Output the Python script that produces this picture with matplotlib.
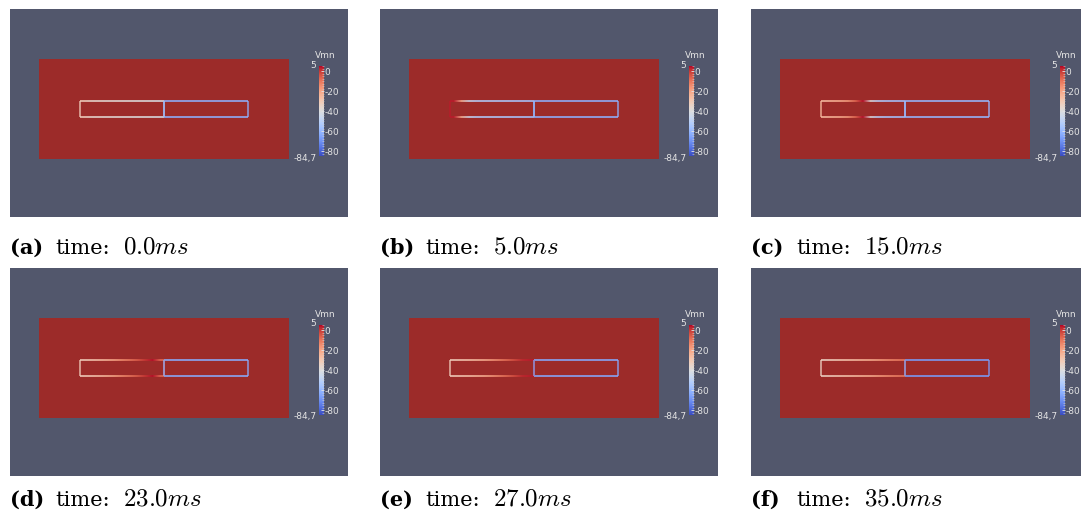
import numpy as np
import matplotlib
matplotlib.use("Agg")
import matplotlib.pyplot as plt
from matplotlib.colors import Normalize
from matplotlib.patches import Rectangle
from matplotlib.colorbar import ColorbarBase
from matplotlib.ticker import MultipleLocator

plt.rcParams['mathtext.fontset'] = 'cm'

# panel captions
labels = ['(a)', '(b)', '(c)', '(d)', '(e)', '(f)']
times = [0.0, 5.0, 15.0, 23.0, 27.0, 35.0]

# transmembrane potential (mV) read along each cable, left -> right
left_v = [
    [-32, -36, -37, -38, -38, -39, -39, -40, -40, -41, -42],   # a
    [3, -22, -46, -52, -53, -53, -54, -54, -55, -55, -56],     # b
    [-26, -24, -22, -18, -8, 4, -40, -52, -55, -56, -57],      # c
    [-32, -30, -27, -24, -20, -15, -11, -6, 0, 4, -8],         # d
    [-32, -30, -28, -25, -22, -18, -13, -8, -3, 2, 3],         # e
    [-34, -32, -30, -28, -26, -24, -22, -19, -16, -13, -11],   # f
]
right_v = [
    [-62, -62, -62, -62, -62, -62, -62, -62, -62, -62, -62],
    [-62, -62, -62, -62, -62, -62, -62, -62, -62, -62, -62],
    [-60, -60, -60, -60, -60, -60, -60, -60, -60, -60, -60],
    [-63, -63, -63, -63, -63, -63, -63, -63, -63, -63, -63],
    [-64, -64, -64, -64, -64, -64, -64, -64, -64, -64, -64],
    [-67, -67, -67, -67, -67, -67, -67, -67, -67, -67, -67],
]
v_min, v_max = -84.7, 5.0
cbar_ticks = [0, -20, -40, -60, -80]

W, H = 1081, 523
BG = '#52576c'
RED = '#9c2b29'
TXT = '#e4e4e4'

fig = plt.figure(figsize=(W / 100, H / 100), dpi=100)
fig.patch.set_facecolor('white')

cmap = plt.get_cmap('coolwarm')
norm = Normalize(vmin=v_min, vmax=v_max)

pw, ph = 338, 208
origins = [(10, 9), (380, 9), (751, 9), (10, 268), (380, 268), (751, 268)]
cap_base = [254, 254, 254, 506, 506, 506]


def draw_cable(ax, x0, x1, y0, y1, vals):
    row = np.array(vals, dtype=float)[np.newaxis, :]
    for y in (y0, y1):
        ax.imshow(row, cmap=cmap, norm=norm, extent=(x0, x1, y + 0.8, y - 0.8),
                  interpolation='bilinear', aspect='auto', alpha=0.8, zorder=3)
    ax.plot([x0, x0], [y0, y1], color=cmap(norm(vals[0])), lw=1.2, alpha=0.8,
            zorder=4, solid_capstyle='butt')
    ax.plot([x1, x1], [y0, y1], color=cmap(norm(vals[-1])), lw=1.2, alpha=0.8,
            zorder=4, solid_capstyle='butt')


for i, (ox, oy) in enumerate(origins):
    ax = fig.add_axes([ox / W, 1 - (oy + ph) / H, pw / W, ph / H])
    ax.set_facecolor(BG)
    ax.set_xlim(0, pw)
    ax.set_ylim(ph, 0)
    ax.set_xticks([])
    ax.set_yticks([])
    for s in ax.spines.values():
        s.set_visible(False)

    ax.add_patch(Rectangle((29, 50), 250, 100, facecolor=RED, edgecolor='none', zorder=1))
    draw_cable(ax, 70, 154, 92, 108, left_v[i])
    draw_cable(ax, 154, 238, 92, 108, right_v[i])

    # scalar bar
    cax = fig.add_axes([(ox + 309) / W, 1 - (oy + 147) / H, 5 / W, 90 / H])
    cb = ColorbarBase(cax, cmap=cmap, norm=norm, orientation='vertical')
    cb.outline.set_visible(False)
    cb.set_ticks(cbar_ticks)
    cb.set_ticklabels([str(t) for t in cbar_ticks])
    cax.yaxis.set_minor_locator(MultipleLocator(2.5))
    cax.tick_params(which='major', length=2.5, width=0.6, colors=TXT, labelsize=6.5,
                    pad=0.5, direction='in')
    cax.tick_params(which='minor', length=1.5, width=0.4, colors='#d0d0d0', direction='in')
    ax.text(315, 51, 'Vmn', color=TXT, fontsize=6.5, ha='center', va='bottom',
            family='DejaVu Sans', zorder=5)
    ax.text(306, 56, '5', color=TXT, fontsize=6.5, ha='right', va='center',
            family='DejaVu Sans', zorder=5)
    ax.text(307, 149, '-84,7', color=TXT, fontsize=6.5, ha='right', va='center',
            family='DejaVu Sans', zorder=5)

    # caption
    yb = 1 - cap_base[i] / H
    fig.text(ox / W, yb, labels[i], fontsize=15, fontweight='bold',
             family='DejaVu Serif', va='baseline', ha='left')
    fig.text((ox + 45) / W, yb, 'time:', fontsize=15,
             family='DejaVu Serif', va='baseline', ha='left')
    fig.text((ox + 113) / W, yb, '$%.1fms$' % times[i], fontsize=18,
             va='baseline', ha='left')

fig.savefig('out.png', dpi=100, facecolor='white')
